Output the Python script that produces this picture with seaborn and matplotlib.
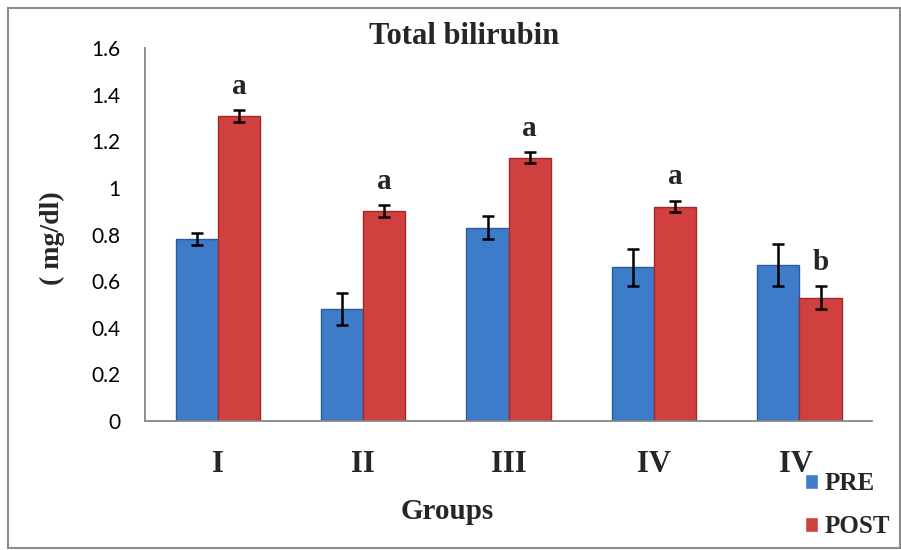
import matplotlib
matplotlib.use("Agg")
import matplotlib.pyplot as plt
import matplotlib.patches as mpatches
import numpy as np
import pandas as pd
import seaborn as sns

# ---------------- data ----------------
groups = ["I", "II", "III", "IV", "IV "]
pre_vals = [0.78, 0.48, 0.83, 0.66, 0.67]
post_vals = [1.31, 0.90, 1.13, 0.92, 0.53]
pre_err = [0.025, 0.07, 0.05, 0.08, 0.09]
post_err = [0.025, 0.025, 0.025, 0.025, 0.05]
post_letters = ["a", "a", "a", "a", "b"]
y_ticks = [0, 0.2, 0.4, 0.6, 0.8, 1, 1.2, 1.4, 1.6]
y_tick_labels = ["0", "0.2", "0.4", "0.6", "0.8", "1", "1.2", "1.4", "1.6"]

# ---------------- style ----------------
BLUE = "#3E7BC9"
BLUE_EDGE = "#2B5C9C"
RED = "#D0403F"
RED_EDGE = "#9E2A2A"
SPINE = "#868686"
SERIF = ["Liberation Serif", "DejaVu Serif"]

sns.set_style("white")
plt.rcParams["font.family"] = SERIF

df = pd.DataFrame({
    "group": groups * 2,
    "value": pre_vals + post_vals,
    "err": pre_err + post_err,
    "phase": ["PRE"] * len(groups) + ["POST"] * len(groups),
})

fig = plt.figure(figsize=(9.01, 5.5), dpi=100)
ax = fig.add_axes([0.161, 0.2345, 0.807, 0.678])

sns.barplot(data=df, x="group", y="value", hue="phase",
            hue_order=["PRE", "POST"], palette=[BLUE, RED],
            width=0.58, gap=0, errorbar=None, saturation=1,
            legend=True, ax=ax)

# bar edges, error bars and letters
edges = [BLUE_EDGE, RED_EDGE]
errs = [pre_err, post_err]
bar_containers = list(ax.containers)
for k, cont in enumerate(bar_containers):
    xs = []
    ys = []
    for bar in cont:
        bar.set_edgecolor(edges[k])
        bar.set_linewidth(1.0)
        xs.append(bar.get_x() + bar.get_width() / 2)
        ys.append(bar.get_height())
    ax.errorbar(xs, ys, yerr=errs[k], fmt="none", ecolor="black",
                elinewidth=1.8, capsize=4, capthick=1.8, zorder=5)
    if k == 1:
        for x, y, e, t in zip(xs, ys, post_err, post_letters):
            ax.text(x, y + e + 0.07, t, ha="center", va="baseline",
                    fontsize=21, fontweight="bold", family=SERIF)

# axes
ax.set_xlim(-0.5, len(groups) - 0.5)
ax.set_ylim(0, 1.6)
ax.set_yticks(y_ticks)
ax.set_yticklabels(y_tick_labels, family=["Lato", "DejaVu Sans"], fontsize=15)
ax.tick_params(axis="y", direction="out", length=7, width=1.3, color=SPINE,
               pad=11, labelcolor="black")

ax.set_xticks(np.arange(-0.5, len(groups)), minor=False)
ax.set_xticklabels([])
ax.set_xticks(np.arange(len(groups)), minor=True)
ax.set_xticklabels(groups, minor=True, fontsize=22, fontweight="bold", family=SERIF)
ax.tick_params(axis="x", which="major", direction="out", length=7, width=1.3, color=SPINE)
ax.tick_params(axis="x", which="minor", length=0, pad=21)

ax.set_xlabel("")
ax.set_ylabel("")
for side in ["top", "right"]:
    ax.spines[side].set_visible(False)
for side in ["left", "bottom"]:
    ax.spines[side].set_color(SPINE)
    ax.spines[side].set_linewidth(1.3)
ax.grid(False)

# legend
handles, labels = ax.get_legend_handles_labels()
ax.get_legend().remove()
fig.legend(handles, labels, loc="upper left", bbox_to_anchor=(0.893, 0.142),
           frameon=False, prop={"family": SERIF, "weight": "bold", "size": 18},
           handlelength=0.55, handleheight=0.55, handletextpad=0.25,
           labelspacing=0.8, borderpad=0, borderaxespad=0)

# texts
fig.text(0.515, 0.92, "Total bilirubin", ha="center", va="baseline",
         fontsize=22, fontweight="bold", family=SERIF)
fig.text(0.496, 0.0564, "Groups", ha="center", va="baseline",
         fontsize=21, fontweight="bold", family=SERIF)
fig.text(0.058, 0.567, "( mg/dl)", ha="center", va="center", rotation=90,
         fontsize=20, fontweight="bold", family=SERIF)

# outer frame
fig.patches.append(mpatches.Rectangle((0.009, 0.004), 0.99, 0.982,
                                      transform=fig.transFigure, fill=False,
                                      edgecolor="#8c8c8c", linewidth=1.5))

fig.savefig("out.png", dpi=100, facecolor="white")
